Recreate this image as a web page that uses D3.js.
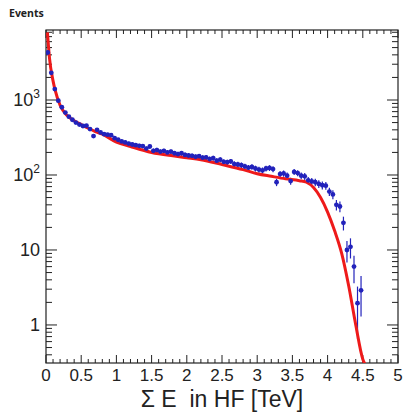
<!DOCTYPE html>
<html>
<head>
<meta charset="utf-8">
<script src="https://cdn.jsdelivr.net/npm/d3@7"></script>
<style>
  body { margin: 0; background: #fff; }
  svg { display: block; }
</style>
</head>
<body>
<div id="chart"></div>
<script>
// Data
const xTicks = [0, 0.5, 1, 1.5, 2, 2.5, 3, 3.5, 4, 4.5, 5];
const xTickLabels = ['0', '0.5', '1', '1.5', '2', '2.5', '3', '3.5', '4', '4.5', '5'];
const yDecades = [1, 10, 100, 1000];

// simulation (red line)
const simX = [0.02, 0.05, 0.1, 0.13, 0.2, 0.3, 0.4, 0.5, 0.6, 0.7, 0.8, 1.0, 1.2, 1.5, 1.8, 2.0, 2.2, 2.5, 2.8, 3.0, 3.2, 3.4, 3.6, 3.7, 3.8, 3.9, 4.0, 4.1, 4.2, 4.3, 4.4, 4.5, 4.53];
const simY = [8000, 3600, 1800, 1350, 850, 620, 530, 470, 420, 380, 350, 275, 240, 200, 180, 170, 160, 138, 118, 104, 96, 89, 84, 80, 68, 50, 32, 18, 9, 3.3, 1.0, 0.35, 0.3];

// data (blue points)
const dataX = [0.025, 0.075, 0.125, 0.175, 0.225, 0.275, 0.325, 0.375, 0.425, 0.475,
  0.525, 0.575, 0.625, 0.675, 0.725, 0.775, 0.825, 0.875, 0.925, 0.975,
  1.025, 1.075, 1.125, 1.175, 1.225, 1.275, 1.325, 1.375, 1.425, 1.475,
  1.525, 1.575, 1.625, 1.675, 1.725, 1.775, 1.825, 1.875, 1.925, 1.975,
  2.025, 2.075, 2.125, 2.175, 2.225, 2.275, 2.325, 2.375, 2.425, 2.475,
  2.525, 2.575, 2.625, 2.675, 2.725, 2.775, 2.825, 2.875, 2.925, 2.975,
  3.025, 3.075, 3.125, 3.175, 3.225, 3.275, 3.325, 3.375, 3.425, 3.475,
  3.525, 3.575, 3.625, 3.675, 3.725, 3.775, 3.825, 3.875, 3.925, 3.975,
  4.025, 4.075, 4.125, 4.175, 4.225, 4.275, 4.325, 4.375, 4.425, 4.475];
const dataY = [4300, 2300, 1400, 980, 800, 680, 600, 545, 500, 470,
  450, 455, 410, 330, 400, 370, 350, 345, 340, 310,
  295, 280, 272, 262, 255, 250, 245, 243, 225, 240,
  210, 215, 205, 210, 200, 205, 195, 190, 195, 185,
  182, 180, 175, 178, 170, 172, 163, 168, 155, 160,
  150, 148, 152, 140, 138, 135, 130, 125, 128, 122,
  118, 115, 122, 124, 120, 80, 103, 105, 98, 83,
  110, 106, 98, 96, 85, 82, 80, 76, 73, 72,
  60, 55, 40, 38, 23, 10, 11, 6, 1.95, 2.9];
const dataErr = [70, 50, 37, 31, 28, 26, 24, 23, 22, 22,
  21, 21, 20, 18, 20, 19, 19, 19, 18, 18,
  17, 17, 17, 16, 16, 16, 16, 16, 15, 15,
  15, 15, 14, 14, 14, 14, 14, 14, 14, 14,
  13, 13, 13, 13, 13, 13, 13, 13, 12, 13,
  12, 12, 12, 12, 12, 12, 11, 11, 11, 11,
  11, 11, 11, 11, 11, 9, 10, 10, 10, 9,
  10, 10, 10, 10, 9, 9, 9, 9, 9, 8.5,
  7.7, 7.4, 6.3, 6.2, 4.8, 3.2, 3.3, 2.4, 1.3, 1.6];

const C = {
  width: 403,
  height: 413,
  margin: {left: 46, right: 5, top: 30, bottom: 50},
  font: '"Liberation Sans", Arial, sans-serif',
  red: '#ee1a1a',
  blue: '#2222bb',
};

const svg = d3.select('#chart').append('svg')
  .attr('width', C.width)
  .attr('height', C.height);

const X = d3.scaleLinear().domain([0, 5])
  .range([C.margin.left, C.width - C.margin.right]);
const Y = d3.scaleLog().domain([0.311, 8580])
  .range([C.height - C.margin.bottom, C.margin.top]);

const x0 = X.range()[0], x1 = X.range()[1];
const y0 = Y.range()[0], y1 = Y.range()[1];

svg.append('defs').append('clipPath').attr('id', 'plot-clip')
  .append('rect')
  .attr('x', x0).attr('y', y1)
  .attr('width', x1 - x0).attr('height', y0 - y1);

// ticks, all pointing inward like ROOT
const ticks = svg.append('g').attr('stroke', '#222').attr('stroke-width', 1);
const minorX = d3.range(0, 50.5, 1).map(d => d / 10).filter(d => !xTicks.includes(d));
xTicks.forEach(v => {
  ticks.append('line').attr('x1', X(v)).attr('x2', X(v)).attr('y1', y0).attr('y2', y0 - 8);
  ticks.append('line').attr('x1', X(v)).attr('x2', X(v)).attr('y1', y1).attr('y2', y1 + 8);
});
minorX.forEach(v => {
  ticks.append('line').attr('x1', X(v)).attr('x2', X(v)).attr('y1', y0).attr('y2', y0 - 4);
  ticks.append('line').attr('x1', X(v)).attr('x2', X(v)).attr('y1', y1).attr('y2', y1 + 4);
});

const minorY = [];
[0.1, 1, 10, 100, 1000].forEach(dec => {
  for (let k = 2; k <= 9; k++) minorY.push(dec * k);
});
minorY.filter(v => v >= Y.domain()[0] && v <= Y.domain()[1]).forEach(v => {
  ticks.append('line').attr('x1', x0).attr('x2', x0 + 6).attr('y1', Y(v)).attr('y2', Y(v));
  ticks.append('line').attr('x1', x1).attr('x2', x1 - 6).attr('y1', Y(v)).attr('y2', Y(v));
});
yDecades.forEach(v => {
  ticks.append('line').attr('x1', x0).attr('x2', x0 + 11).attr('y1', Y(v)).attr('y2', Y(v));
  ticks.append('line').attr('x1', x1).attr('x2', x1 - 11).attr('y1', Y(v)).attr('y2', Y(v));
});

// frame
svg.append('rect')
  .attr('x', x0).attr('y', y1)
  .attr('width', x1 - x0).attr('height', y0 - y1)
  .attr('fill', 'none').attr('stroke', '#222').attr('stroke-width', 1.2);

// x tick labels
svg.append('g').selectAll('text')
  .data(xTicks)
  .join('text')
  .attr('x', d => X(d))
  .attr('y', y0 + 18)
  .attr('text-anchor', 'middle')
  .attr('font-family', C.font)
  .attr('font-size', 17)
  .attr('fill', '#222')
  .text((d, i) => xTickLabels[i]);

// y tick labels (10^n)
const sup = ['', '', '2', '3'];
const yl = svg.append('g');
yDecades.forEach((v, i) => {
  const t = yl.append('text')
    .attr('x', x0 - 6)
    .attr('y', Y(v) + 6)
    .attr('text-anchor', 'end')
    .attr('font-family', C.font)
    .attr('font-size', 18)
    .attr('fill', '#222');
  t.append('tspan').text(v === 1 ? '1' : '10');
  if (sup[i]) {
    t.append('tspan').attr('dy', -8).attr('font-size', 12).text(sup[i]);
  }
});

// axis title
svg.append('text')
  .attr('x', (x0 + x1) / 2)
  .attr('y', 407)
  .attr('text-anchor', 'middle')
  .attr('font-family', C.font)
  .attr('font-size', 23)
  .attr('fill', '#222')
  .style('white-space', 'pre')
  .text('Σ E  in HF [TeV]');

svg.append('text')
  .attr('x', 9)
  .attr('y', 17)
  .attr('font-family', '"Open Sans", sans-serif')
  .attr('font-weight', 'bold')
  .attr('font-size', 10.5)
  .attr('fill', '#222')
  .text('Events');

const plot = svg.append('g').attr('clip-path', 'url(#plot-clip)');

// data points with error bars
const pts = dataX.map((x, i) => ({x, y: dataY[i], e: dataErr[i]}));
const bars = plot.append('g').attr('stroke', C.blue).attr('stroke-width', 1.2);
pts.forEach(d => {
  bars.append('line')
    .attr('x1', X(d.x)).attr('x2', X(d.x))
    .attr('y1', Y(Math.max(d.y - d.e, 0.2))).attr('y2', Y(d.y + d.e));
  bars.append('line')
    .attr('x1', X(d.x - 0.025)).attr('x2', X(d.x + 0.025))
    .attr('y1', Y(d.y)).attr('y2', Y(d.y));
});

// simulation line
const sim = simX.map((x, i) => ({x, y: simY[i]}));
plot.append('path')
  .datum(sim)
  .attr('fill', 'none')
  .attr('stroke', C.red)
  .attr('stroke-width', 3)
  .attr('stroke-linejoin', 'round')
  .attr('d', d3.line().x(d => X(d.x)).y(d => Y(d.y)).curve(d3.curveMonotoneX));

plot.append('g').selectAll('circle')
  .data(pts)
  .join('circle')
  .attr('cx', d => X(d.x))
  .attr('cy', d => Y(d.y))
  .attr('r', 2.4)
  .attr('fill', C.blue);
</script>
</body>
</html>
